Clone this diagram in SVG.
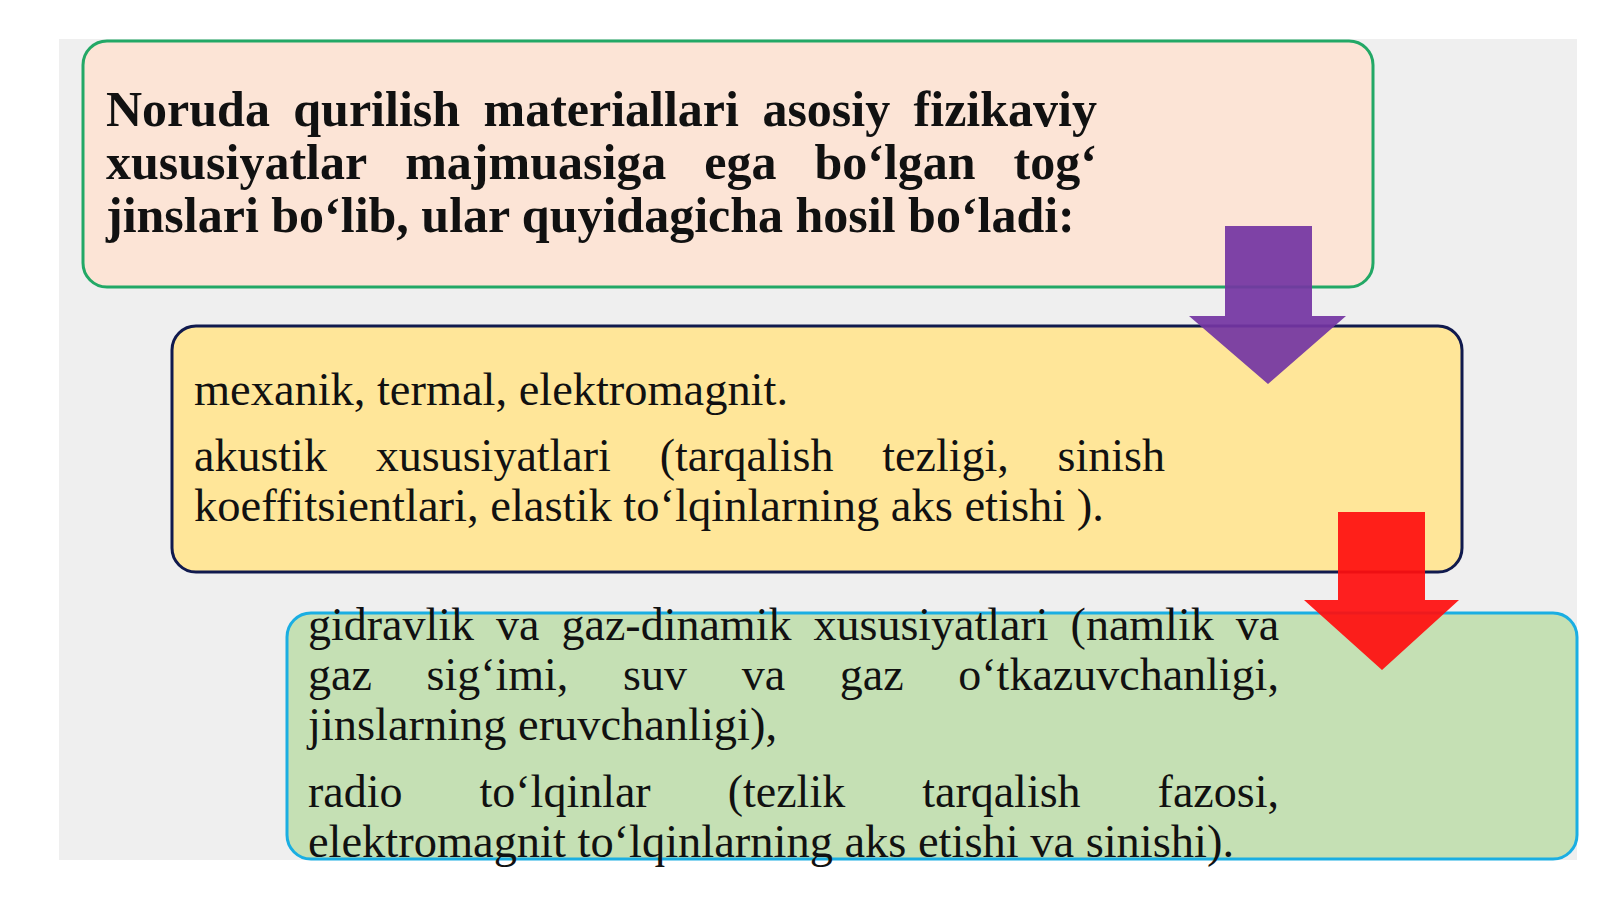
<svg xmlns="http://www.w3.org/2000/svg" width="1600" height="899" viewBox="0 0 1600 899">
<style>
.bg{fill:#efefef}
.box{stroke-width:3}
.t{font-family:"Liberation Serif","Times New Roman",serif;fill:#111}
.b{font-weight:bold;font-size:50px}
.r{font-size:46px}
.arrow{opacity:0.93}
</style>
<rect width="1600" height="899" fill="#ffffff"/>
<rect class="bg" x="59" y="39" width="1518" height="821"/>
<g id="node1">
<rect class="box" x="83" y="41" width="1290" height="246" rx="24" fill="#fce4d6" stroke="#22a866"/>
<text class="t b"><tspan x="106" y="126">Noruda</tspan><tspan x="293.3" y="126">qurilish</tspan><tspan x="483.5" y="126">materiallari</tspan><tspan x="762.4" y="126">asosiy</tspan><tspan x="913.6" y="126">fizikaviy</tspan></text>
<text class="t b"><tspan x="106" y="179">xususiyatlar</tspan><tspan x="405.2" y="179">majmuasiga</tspan><tspan x="704.3" y="179">ega</tspan><tspan x="814.5" y="179">bo‘lgan</tspan><tspan x="1013.6" y="179">tog‘</tspan></text>
<text class="t b" x="106" y="232">jinslari bo‘lib, ular quyidagicha hosil bo‘ladi:</text>
</g>
<g id="node2">
<rect class="box" x="172" y="326" width="1290" height="246" rx="24" fill="#ffe699" stroke="#101a4e"/>
<text class="t r" x="194" y="405" textLength="594" lengthAdjust="spacingAndGlyphs">mexanik, termal, elektromagnit.</text>
<text class="t r"><tspan x="194" y="471">akustik</tspan><tspan x="375.8" y="471">xususiyatlari</tspan><tspan x="659.7" y="471">(tarqalish</tspan><tspan x="882.3" y="471">tezligi,</tspan><tspan x="1057.6" y="471">sinish</tspan></text>
<text class="t r" x="194" y="521" textLength="910" lengthAdjust="spacingAndGlyphs">koeffitsientlari, elastik to‘lqinlarning aks etishi ).</text>
</g>
<g id="node3">
<rect class="box" x="287" y="613" width="1290" height="246" rx="24" fill="#c5e0b4" stroke="#1aaee2"/>
<text class="t r"><tspan x="308" y="640">gidravlik</tspan><tspan x="496.1" y="640">va</tspan><tspan x="561.5" y="640">gaz-dinamik</tspan><tspan x="813.5" y="640">xususiyatlari</tspan><tspan x="1070.6" y="640">(namlik</tspan><tspan x="1235.7" y="640">va</tspan></text>
<text class="t r"><tspan x="308" y="690">gaz</tspan><tspan x="426.5" y="690">sig‘imi,</tspan><tspan x="623.1" y="690">suv</tspan><tspan x="741.7" y="690">va</tspan><tspan x="839.8" y="690">gaz</tspan><tspan x="958.3" y="690">o‘tkazuvchanligi,</tspan></text>
<text class="t r" x="308" y="740" textLength="469" lengthAdjust="spacingAndGlyphs">jinslarning eruvchanligi),</text>
<text class="t r"><tspan x="308" y="807">radio</tspan><tspan x="479.5" y="807">to‘lqinlar</tspan><tspan x="727.7" y="807">(tezlik</tspan><tspan x="922.2" y="807">tarqalish</tspan><tspan x="1157.6" y="807">fazosi,</tspan></text>
<text class="t r" x="308" y="857" textLength="926" lengthAdjust="spacingAndGlyphs">elektromagnit to‘lqinlarning aks etishi va sinishi).</text>
</g>
<g id="connectors">
<polygon class="arrow" points="1225,226 1312,226 1312,316 1346,316 1268,384 1189,316 1225,316" fill="#7436a3"/>
<polygon class="arrow" points="1338,512 1425,512 1425,600 1459,600 1382,670 1304,600 1338,600" fill="#ff0f0f"/>
</g>
</svg>
